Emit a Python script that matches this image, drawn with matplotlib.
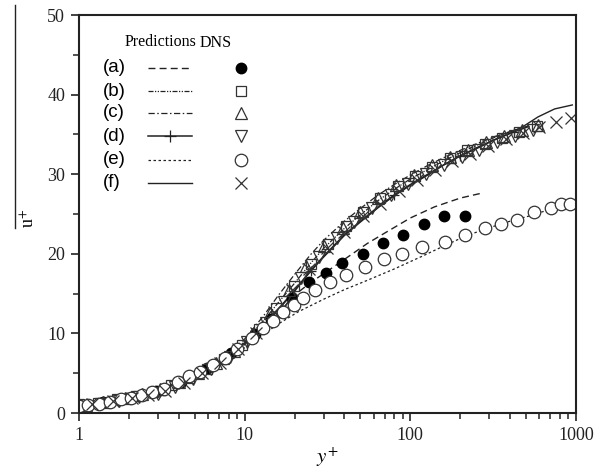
import matplotlib
matplotlib.use("Agg")
import matplotlib.pyplot as plt

plt.rcParams["mathtext.fontset"] = "stix"

# Predictions (lines)
a_yp = [1.0, 2.0, 3.0, 5.0, 7.0, 10, 14, 20, 25, 30, 40, 55, 70, 100, 140, 200, 267]
a_up = [1.0, 2.0, 2.9, 4.6, 6.2, 8.6, 11.2, 14.8, 16.4, 17.5, 19.3, 21.3, 22.6, 24.5, 25.9, 27.0, 27.6]

b_yp = [1.0, 2.0, 3.0, 5.0, 7.0, 10, 13, 16, 20, 25, 30, 40, 50, 64, 80, 100, 130, 160, 200, 256, 320, 420, 520]
b_up = [1.0, 2.0, 2.9, 4.6, 6.3, 9.0, 11.6, 13.9, 16.3, 18.8, 20.7, 23.2, 24.9, 26.7, 28.1, 29.4, 30.7, 31.7, 32.7, 33.7, 34.6, 35.5, 36.1]

c_yp = [1.0, 2.0, 3.0, 5.0, 7.0, 10, 13, 16, 20, 25, 30, 40, 50, 64, 80, 100, 130, 160, 200, 256, 320, 420, 520]
c_up = [1.0, 2.0, 2.9, 4.7, 6.5, 9.3, 12.2, 14.8, 17.4, 19.9, 21.7, 24.1, 25.7, 27.4, 28.7, 29.9, 31.2, 32.1, 33.0, 33.9, 34.7, 35.5, 36.1]

d_yp = [1.0, 2.0, 3.0, 5.0, 7.0, 10, 13, 16, 20, 25, 30, 40, 50, 64, 80, 100, 130, 160, 200, 256, 320, 420, 520]
d_up = [1.0, 2.0, 2.9, 4.6, 6.2, 8.8, 11.0, 13.1, 15.4, 17.9, 19.7, 22.4, 24.1, 25.9, 27.4, 28.7, 30.1, 31.2, 32.3, 33.4, 34.3, 35.3, 36.0]

e_yp = [1.0, 2.0, 3.0, 5.0, 7.0, 10, 13, 16, 21, 30, 40, 54, 80, 118, 160, 214, 282, 400, 533, 700, 927]
e_up = [1.0, 2.0, 2.9, 4.6, 6.1, 8.2, 9.9, 11.2, 12.7, 14.3, 15.5, 16.6, 18.1, 19.7, 21.0, 22.2, 23.1, 24.1, 24.8, 25.6, 26.6]

f_yp = [1.0, 2.0, 3.0, 5.0, 7.0, 10, 13, 16, 20, 25, 30, 40, 50, 64, 80, 100, 130, 160, 200, 256, 320, 405, 480, 590, 743, 950]
f_up = [1.0, 2.0, 2.9, 4.6, 6.2, 8.8, 11.0, 13.0, 15.3, 17.8, 19.6, 22.3, 24.0, 25.8, 27.3, 28.6, 30.0, 31.2, 32.3, 33.3, 34.3, 35.2, 36.0, 37.2, 38.2, 38.7]

# DNS (markers)
dns_a_yp = [1.0, 1.4, 2.0, 2.9, 4.1, 5.9, 8.3, 11.5, 14.5, 19.3, 24.4, 30.9, 38.5, 51.5, 68.8, 90.7, 121, 160, 214]
dns_a_up = [1.0, 1.4, 1.9, 2.8, 3.9, 5.7, 7.6, 9.9, 11.8, 14.4, 16.4, 17.6, 18.9, 20.0, 21.4, 22.4, 23.7, 24.7, 24.8]

dns_b_yp = [1.0, 1.3, 1.7, 2.2, 2.8, 3.6, 4.6, 5.9, 7.5, 9.6, 12.2, 15.5, 19.8, 25, 32, 41, 52, 66, 84, 107, 136, 173, 221, 281, 358, 456, 580]
dns_b_up = [1.1, 1.3, 1.7, 2.2, 2.7, 3.5, 4.4, 5.5, 6.8, 8.5, 10.6, 13.2, 15.9, 18.7, 21.2, 23.5, 25.3, 27.0, 28.5, 29.8, 30.9, 32.0, 33.0, 33.8, 34.6, 35.3, 36.0]

dns_c_yp = [1.1, 1.4, 1.9, 2.4, 3.1, 4.0, 5.2, 6.7, 8.6, 11.1, 14.3, 18.4, 23.6, 30, 39, 50, 64, 82, 105, 135, 173, 222, 285, 366, 470, 590]
dns_c_up = [1.0, 1.4, 1.9, 2.4, 3.0, 3.9, 5.0, 6.3, 7.8, 9.9, 12.6, 15.5, 18.5, 21.0, 23.3, 25.2, 27.0, 28.6, 29.9, 31.1, 32.2, 33.1, 34.0, 34.8, 35.6, 36.2]

dns_d_yp = [1.05, 1.35, 1.75, 2.3, 3.0, 3.8, 4.9, 6.3, 8.1, 10.4, 13.4, 17.2, 22, 28, 36, 46, 59, 76, 97, 124, 159, 204, 261, 334, 428, 548]
dns_d_up = [0.8, 1.1, 1.5, 2.0, 2.4, 3.3, 4.3, 5.5, 7.0, 8.9, 11.3, 14.0, 16.9, 19.6, 22.0, 24.0, 25.8, 27.4, 28.8, 30.0, 31.1, 32.2, 33.1, 34.0, 34.8, 35.6]

dns_e_yp = [1.0, 1.13, 1.32, 1.54, 1.79, 2.05, 2.39, 2.74, 3.28, 3.98, 4.64, 5.4, 6.45, 7.6, 9.0, 11.1, 12.9, 14.8, 17.0, 19.8, 22.5, 26.5, 32.6, 40.7, 53, 69.8, 89.5, 118, 162, 214, 282, 352, 439, 555, 703, 807, 914]
dns_e_up = [0.9, 1.0, 1.1, 1.4, 1.7, 1.9, 2.3, 2.7, 3.0, 3.9, 4.6, 5.2, 6.0, 6.9, 8.1, 9.4, 10.7, 11.5, 12.7, 13.6, 14.4, 15.4, 16.4, 17.4, 18.4, 19.4, 20.0, 20.8, 21.5, 22.4, 23.2, 23.7, 24.3, 25.2, 25.8, 26.2, 26.2]

dns_f_yp = [1.2, 1.6, 2.1, 2.6, 3.3, 4.3, 5.5, 7.1, 9.1, 11.7, 15, 19.2, 24.6, 31.5, 40, 52, 66, 85, 109, 140, 179, 229, 294, 376, 482, 600, 760, 930]
dns_f_up = [1.1, 1.5, 1.9, 2.3, 2.8, 3.8, 5.0, 6.3, 8.0, 10.1, 12.7, 15.4, 18.1, 20.7, 22.8, 24.7, 26.3, 27.9, 29.3, 30.5, 31.6, 32.6, 33.5, 34.4, 35.2, 35.9, 36.5, 37.0]

labels = ["(a)", "(b)", "(c)", "(d)", "(e)", "(f)"]

ink = "#222222"
mk = "#333333"
serif = "Liberation Serif"

# line styles for (a)..(f)
line_styles = [
    dict(color=ink, lw=1.0, ls=(0, (5, 3))),
    dict(color=ink, lw=0.9, ls=(0, (4, 1.2, 1, 1.2, 1, 1.2))),
    dict(color=ink, lw=0.9, ls=(0, (5, 2, 1.2, 2))),
    dict(color=ink, lw=1.1, marker="+", ms=7, mew=0.9),
    dict(color=ink, lw=0.9, ls=(0, (2, 2))),
    dict(color=ink, lw=1.0),
]
mark_styles = [
    dict(marker="o", ms=7.5, mfc="black", mec="black"),
    dict(marker="s", ms=6.5, mfc="none", mec=mk, mew=0.9),
    dict(marker="^", ms=8, mfc="none", mec=mk, mew=0.9),
    dict(marker="v", ms=8, mfc="none", mec=mk, mew=0.9),
    dict(marker="o", ms=9, mfc="white", mec=mk, mew=0.9),
    dict(marker="x", ms=8, mec=mk, mew=0.9),
]

fig = plt.figure(figsize=(6.11, 4.75), dpi=100)
ax = fig.add_axes([0.1293, 0.1305, 0.8134, 0.8379])

pred = [(a_yp, a_up), (b_yp, b_up), (c_yp, c_up), (d_yp, d_up), (e_yp, e_up), (f_yp, f_up)]
dns = [(dns_a_yp, dns_a_up), (dns_b_yp, dns_b_up), (dns_c_yp, dns_c_up),
       (dns_d_yp, dns_d_up), (dns_e_yp, dns_e_up), (dns_f_yp, dns_f_up)]

for i, (xs, ys) in enumerate(pred):
    st = dict(line_styles[i])
    if i == 3:
        st["markevery"] = [9, 14, 18, 21]
    ax.plot(xs, ys, **st)
for i, (xs, ys) in enumerate(dns):
    ax.plot(xs, ys, ls="none", **mark_styles[i])

# hand-made legend table (axes fraction)
tr = ax.transAxes
ax.text(0.092, 0.932, "Predictions", transform=tr, family=serif, fontsize=11.5,
        va="center", ha="left")
ax.text(0.243, 0.930, "DNS", transform=tr, family=serif, fontsize=11.5,
        va="center", ha="left")
row_y = [0.867, 0.809, 0.754, 0.696, 0.636, 0.578]
for i, lab in enumerate(labels):
    yy = row_y[i]
    ax.text(0.048, yy, lab, transform=tr, family="Liberation Sans", fontsize=13.5,
            va="center", ha="left")
    st = dict(line_styles[i])
    if i == 3:
        st["markevery"] = [1]
        st["ms"] = 9
    ax.plot([0.139, 0.183, 0.227], [yy, yy, yy], transform=tr, clip_on=False, **st)
    ax.plot([0.326], [yy], transform=tr, ls="none", clip_on=False, **mark_styles[i])

ax.set_xscale("log")
ax.set_xlim(1, 1000)
ax.set_ylim(0, 50)
ax.set_yticks([0, 10, 20, 30, 40, 50])
ax.set_yticks([5, 15, 25, 35, 45], minor=True)
ax.set_xticks([1, 10, 100, 1000])
ax.set_xticklabels(["1", "10", "100", "1000"])
ax.tick_params(which="major", direction="out", length=6, width=1.2, colors=ink,
               labelsize=13, pad=4)
ax.tick_params(which="minor", direction="out", length=4, width=1.1, colors=ink)
for lab in ax.get_xticklabels() + ax.get_yticklabels():
    lab.set_family(serif)
for s in ax.spines.values():
    s.set_linewidth(1.5)
    s.set_color(ink)

ax.set_xlabel("$y^{+}$", fontsize=15, labelpad=1)
fig.text(0.048, 0.54, "u$^{+}$", rotation=90, fontsize=13, family=serif,
         ha="center", va="center")
fig.add_artist(plt.Line2D([0.025, 0.025], [0.52, 0.99], color=ink, lw=1.0))

fig.savefig("out.png", dpi=100)
